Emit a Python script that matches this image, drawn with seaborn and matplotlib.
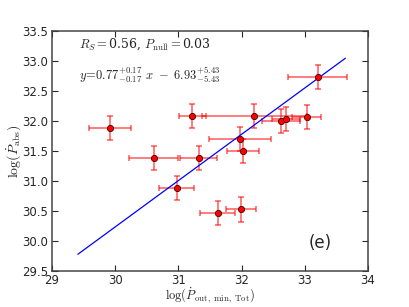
import numpy as np
import pandas as pd
import seaborn as sns
import matplotlib
matplotlib.use("Agg")
import matplotlib.pyplot as plt

# data
log_p_out = [29.92, 30.61, 30.97, 31.22, 31.32, 31.62, 31.98, 31.99, 32.02, 32.20, 32.62, 32.70, 33.03, 33.20]
log_p_abs = [31.89, 31.39, 30.89, 32.08, 31.39, 30.47, 31.71, 30.53, 31.50, 32.09, 32.01, 32.04, 32.07, 32.73]
x_err = [0.33, 0.39, 0.28, 0.21, 0.29, 0.28, 0.49, 0.24, 0.25, 0.83, 0.30, 0.22, 0.23, 0.47]
y_err = [0.20] * 14

# fitted line, drawn between the ends shown in the figure
fit_slope = 0.771
fit_intercept = 7.11
fit_x = [29.41, 33.64]

x_ticks = [29, 30, 31, 32, 33, 34]
y_ticks = [29.5, 30.0, 30.5, 31.0, 31.5, 32.0, 32.5, 33.0, 33.5]

sns.set_style("ticks")
plt.rcParams['mathtext.fontset'] = 'cm'
plt.rcParams['font.family'] = ['DejaVu Sans']

df = pd.DataFrame({'x': log_p_out, 'y': log_p_abs})
line_df = pd.DataFrame({'x': fit_x, 'y': [fit_slope * v + fit_intercept for v in fit_x]})

fig = plt.figure(figsize=(4.09, 3.07), dpi=100)
ax = fig.add_axes([0.127, 0.116, 0.773, 0.783])

ax.errorbar(df['x'], df['y'], xerr=x_err, yerr=y_err, fmt='none',
            ecolor='red', alpha=0.55, elinewidth=1.3, capsize=2.5, capthick=1.3, zorder=2)
sns.lineplot(data=line_df, x='x', y='y', color='blue', linewidth=0.9, ax=ax, zorder=3)
sns.scatterplot(data=df, x='x', y='y', color='red', edgecolor='#400000', linewidth=0.6,
                s=20, ax=ax, zorder=4)

ax.set_xlim(29, 34)
ax.set_ylim(29.5, 33.5)
ax.set_xticks(x_ticks)
ax.set_yticks(y_ticks)
ax.set_xticklabels([str(t) for t in x_ticks])
ax.set_yticklabels([f"{t:.1f}" for t in y_ticks])
ax.tick_params(direction='in', top=True, right=True, labelsize=8.5, length=4, width=0.8)
ax.tick_params(axis='x', pad=2)
ax.tick_params(axis='y', pad=3)
for sp in ax.spines.values():
    sp.set_linewidth(1.1)
    sp.set_color('#444444')

ax.set_xlabel(r'$\log(\dot{P}_{\rm out,\ min,\ Tot})$', fontsize=9, labelpad=-1)
ax.set_ylabel(r'$\log(\dot{P}_{\rm abs})$', fontsize=10, labelpad=-1)

ax.text(0.085, 0.975, r'$R_S=$0.56, $P_{\rm null}=$0.03', transform=ax.transAxes,
        fontsize=9, va='top', ha='left', family='serif')
ax.text(0.085, 0.86, r'$y\!=\!0.77^{+0.17}_{-0.17}\ x\ -\ 6.93^{+5.43}_{-5.43}$', transform=ax.transAxes,
        fontsize=9, va='top', ha='left')
ax.text(0.85, 0.12, '(e)', transform=ax.transAxes, fontsize=12, ha='center', va='center')

fig.savefig('out.png', dpi=100)
